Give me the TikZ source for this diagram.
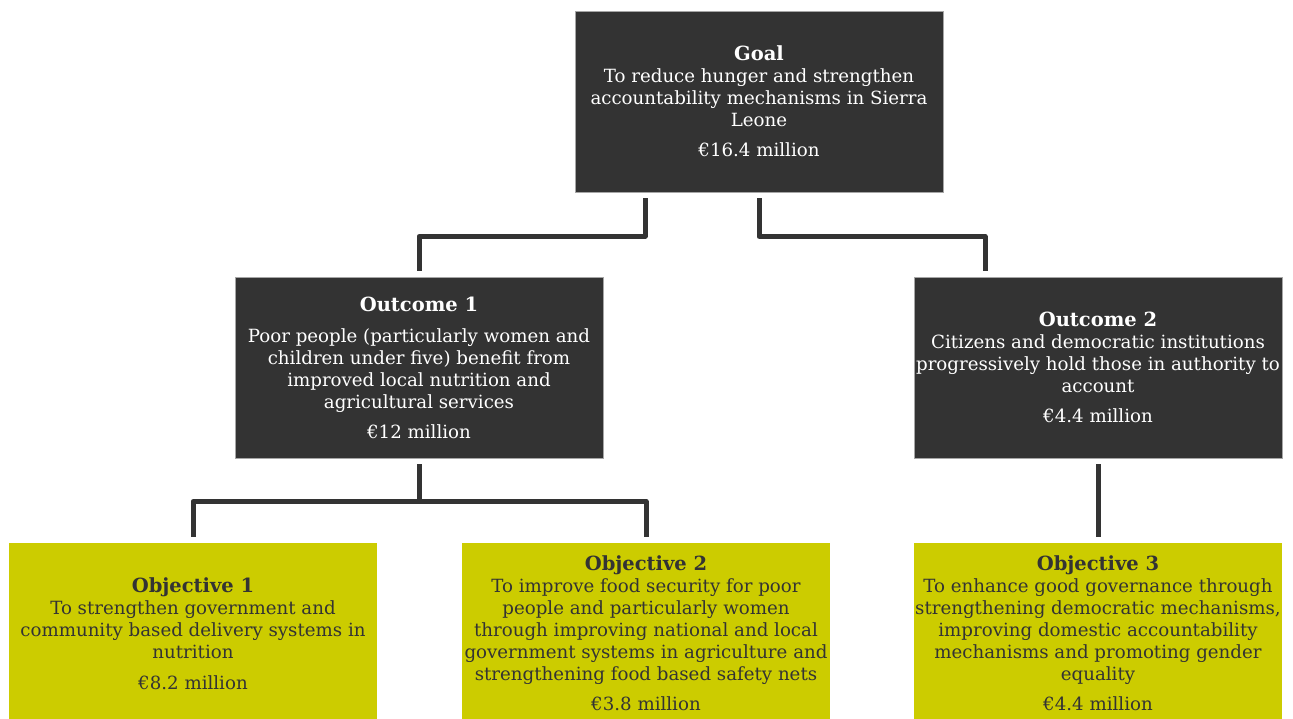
\documentclass[tikz,border=0pt]{standalone}
\usepackage{fontspec}
\setmainfont{DejaVu Serif}
\definecolor{dark}{HTML}{333333}
\definecolor{olive}{HTML}{CCCC00}
\newcommand{\ttl}[1]{{\fontsize{19.5}{22}\selectfont\bfseries #1}}
\begin{document}
\begin{tikzpicture}[x=1pt,y=-1pt,
  box/.style={minimum width=368pt,minimum height=181pt,inner sep=0pt,align=center,font=\fontsize{18.2}{22}\selectfont},
  darkbox/.style={box,fill=dark,text=white,draw=gray!70,line width=0.6pt},
  olivebox/.style={box,fill=olive,text=dark},
  conn/.style={draw=dark,line width=5pt,line join=round}]
\useasboundingbox[fill=white] (0,0) rectangle (1293,718);
\node[darkbox] (goal) at (759,101.5) {\ttl{Goal}\\To reduce hunger and strengthen\\accountability mechanisms in Sierra\\Leone\\[8pt]€16.4 million};
\node[darkbox] (out1) at (419,367.5) {\ttl{Outcome 1}\\[9pt]Poor people (particularly women and\\children under five) benefit from\\improved local nutrition and\\agricultural services\\[8pt]€12 million};
\node[darkbox] (out2) at (1098,367.5) {\ttl{Outcome 2}\\Citizens and democratic institutions\\progressively hold those in authority to\\account\\[8pt]€4.4 million};
\node[olivebox] (obj1) at (193,633.5) {\ttl{Objective 1}\\To strengthen government and\\community based delivery systems in\\nutrition\\[9pt]€8.2 million};
\node[olivebox] (obj2) at (646,633.5) {\ttl{Objective 2}\\To improve food security for poor\\people and particularly women\\through improving national and local\\government systems in agriculture and\\strengthening food based safety nets\\[8pt]€3.8 million};
\node[olivebox] (obj3) at (1098,633.5) {\ttl{Objective 3}\\To enhance good governance through\\strengthening democratic mechanisms,\\improving domestic accountability\\mechanisms and promoting gender\\equality\\[8pt]€4.4 million};
\draw[conn] ([xshift=-114pt,yshift=-6pt]goal.south) -- ++(0pt,-38pt) -| ([yshift=6pt]out1.north);
\draw[conn] ([yshift=-6pt]goal.south) -- ++(0pt,-38pt) -| ([xshift=-113pt,yshift=6pt]out2.north);
\draw[conn] ([yshift=-6pt]out1.south) -- ++(0pt,-37pt) coordinate (split) -| ([yshift=6pt]obj1.north);
\draw[conn] (split) -| ([yshift=6pt]obj2.north);
\draw[conn] ([yshift=-6pt]out2.south) -- ([yshift=6pt]obj3.north);
\end{tikzpicture}
\end{document}
